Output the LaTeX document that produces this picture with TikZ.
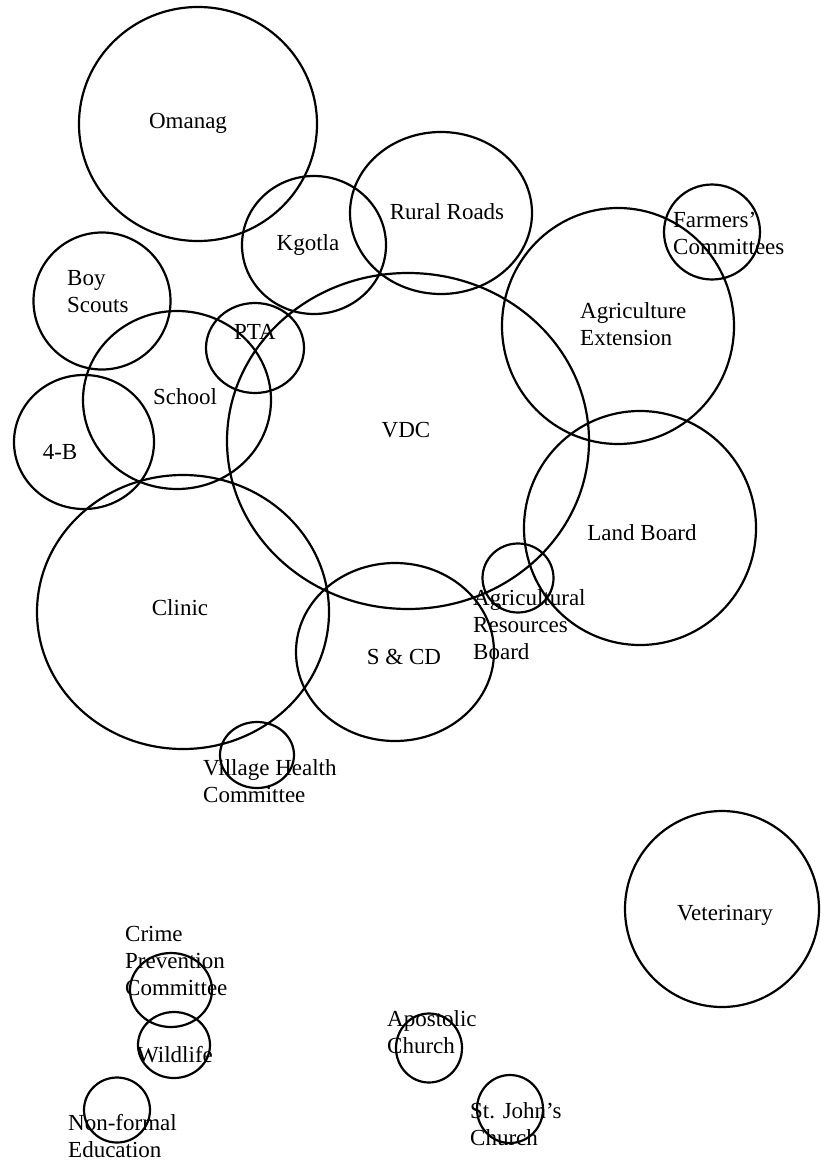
\documentclass[tikz,border=0pt]{standalone}
\usepackage{fontspec}
\setmainfont{Liberation Serif}
\usetikzlibrary{shapes.geometric}
\newcommand\lbsize{\fontsize{23}{27}\selectfont}
\tikzset{
  ring/.style={draw, ellipse, line width=2.2pt, inner sep=0pt, minimum width=#1},
  lbl/.style={font=\lbsize, inner sep=0pt, align=left},
}
\begin{document}
\begin{tikzpicture}[x=1pt,y=-1pt]
\useasboundingbox (0,0) rectangle (821,1164);
% circles
\node[ring=238pt, minimum height=234pt] (cOmanag) at (198,124) {};
\node[ring=144pt, minimum height=138pt] (cKgotla) at (314,245) {};
\node[ring=182pt, minimum height=162pt] (cRoads) at (441,213) {};
\node[ring=96pt, minimum height=95pt] (cFarmers) at (712,232) {};
\node[ring=232pt, minimum height=236pt] (cAgExt) at (618,326) {};
\node[ring=137pt, minimum height=137pt] (cScouts) at (102,301) {};
\node[ring=98pt, minimum height=90pt] (cPTA) at (255,348) {};
\node[ring=188pt, minimum height=178pt] (cSchool) at (177,400) {};
\node[ring=140pt, minimum height=134pt] (cFourB) at (84,442) {};
\node[ring=362pt, minimum height=336pt] (cVDC) at (408,441) {};
\node[ring=232pt, minimum height=234pt] (cLand) at (640,528) {};
\node[ring=71pt, minimum height=69pt] (cARB) at (518,578) {};
\node[ring=292pt, minimum height=274pt] (cClinic) at (183,612) {};
\node[ring=198pt, minimum height=178pt] (cSCD) at (395,652) {};
\node[ring=74pt, minimum height=66pt] (cVHC) at (257,755) {};
\node[ring=194pt, minimum height=196pt] (cVet) at (722,909) {};
\node[ring=82pt, minimum height=74pt] (cCrime) at (171,990) {};
\node[ring=72pt, minimum height=66pt] (cWild) at (174,1045) {};
\node[ring=66pt, minimum height=65pt] (cNFE) at (117,1110) {};
\node[ring=66pt, minimum height=69pt] (cApost) at (429,1048) {};
\node[ring=66pt, minimum height=68pt] (cJohn) at (510,1109) {};
% labels
\node[lbl] (tOmanag) at (188,123) {Omanag};
\node[lbl] (tKgotla) at (308,245) {Kgotla};
\node[lbl, anchor=west] (tScouts) at (67,292) {Boy\\Scouts};
\node[lbl] (tRoads) at (447,212) {Rural Roads};
\node[lbl, anchor=west] (tFarmers) at (673,233) {Farmers'\\Committees};
\node[lbl, anchor=west] (tAgExt) at (580,324) {Agriculture\\Extension};
\node[lbl] (tVDC) at (406,430) {VDC};
\node[lbl] (tSchool) at (185,397) {School};
\node[lbl] (tPTA) at (255,332) {PTA};
\node[lbl] (tFourB) at (60,452) {4-B};
\node[lbl] (tClinic) at (180,608) {Clinic};
\node[lbl] (tSCD) at (404,657) {S \& CD};
\node[lbl, anchor=west] (tVHC) at (203,781) {Village Health\\Committee};
\node[lbl, anchor=west] (tARB) at (473,625) {Agricultural\\Resources\\Board};
\node[lbl] (tLand) at (642,533) {Land Board};
\node[lbl] (tVet) at (725,915) {Veterinary};
\node[lbl, anchor=west] (tCrime) at (125,961) {Crime\\Prevention\\Committee};
\node[lbl] (tWild) at (175,1055) {Wildlife};
\node[lbl, anchor=west] (tNFE) at (68,1136) {Non-formal\\Education};
\node[lbl, anchor=west] (tApost) at (387,1032) {Apostolic\\Church};
\node[lbl, anchor=west] (tJohn) at (470,1124) {St. John's\\Church};
\end{tikzpicture}
\end{document}
